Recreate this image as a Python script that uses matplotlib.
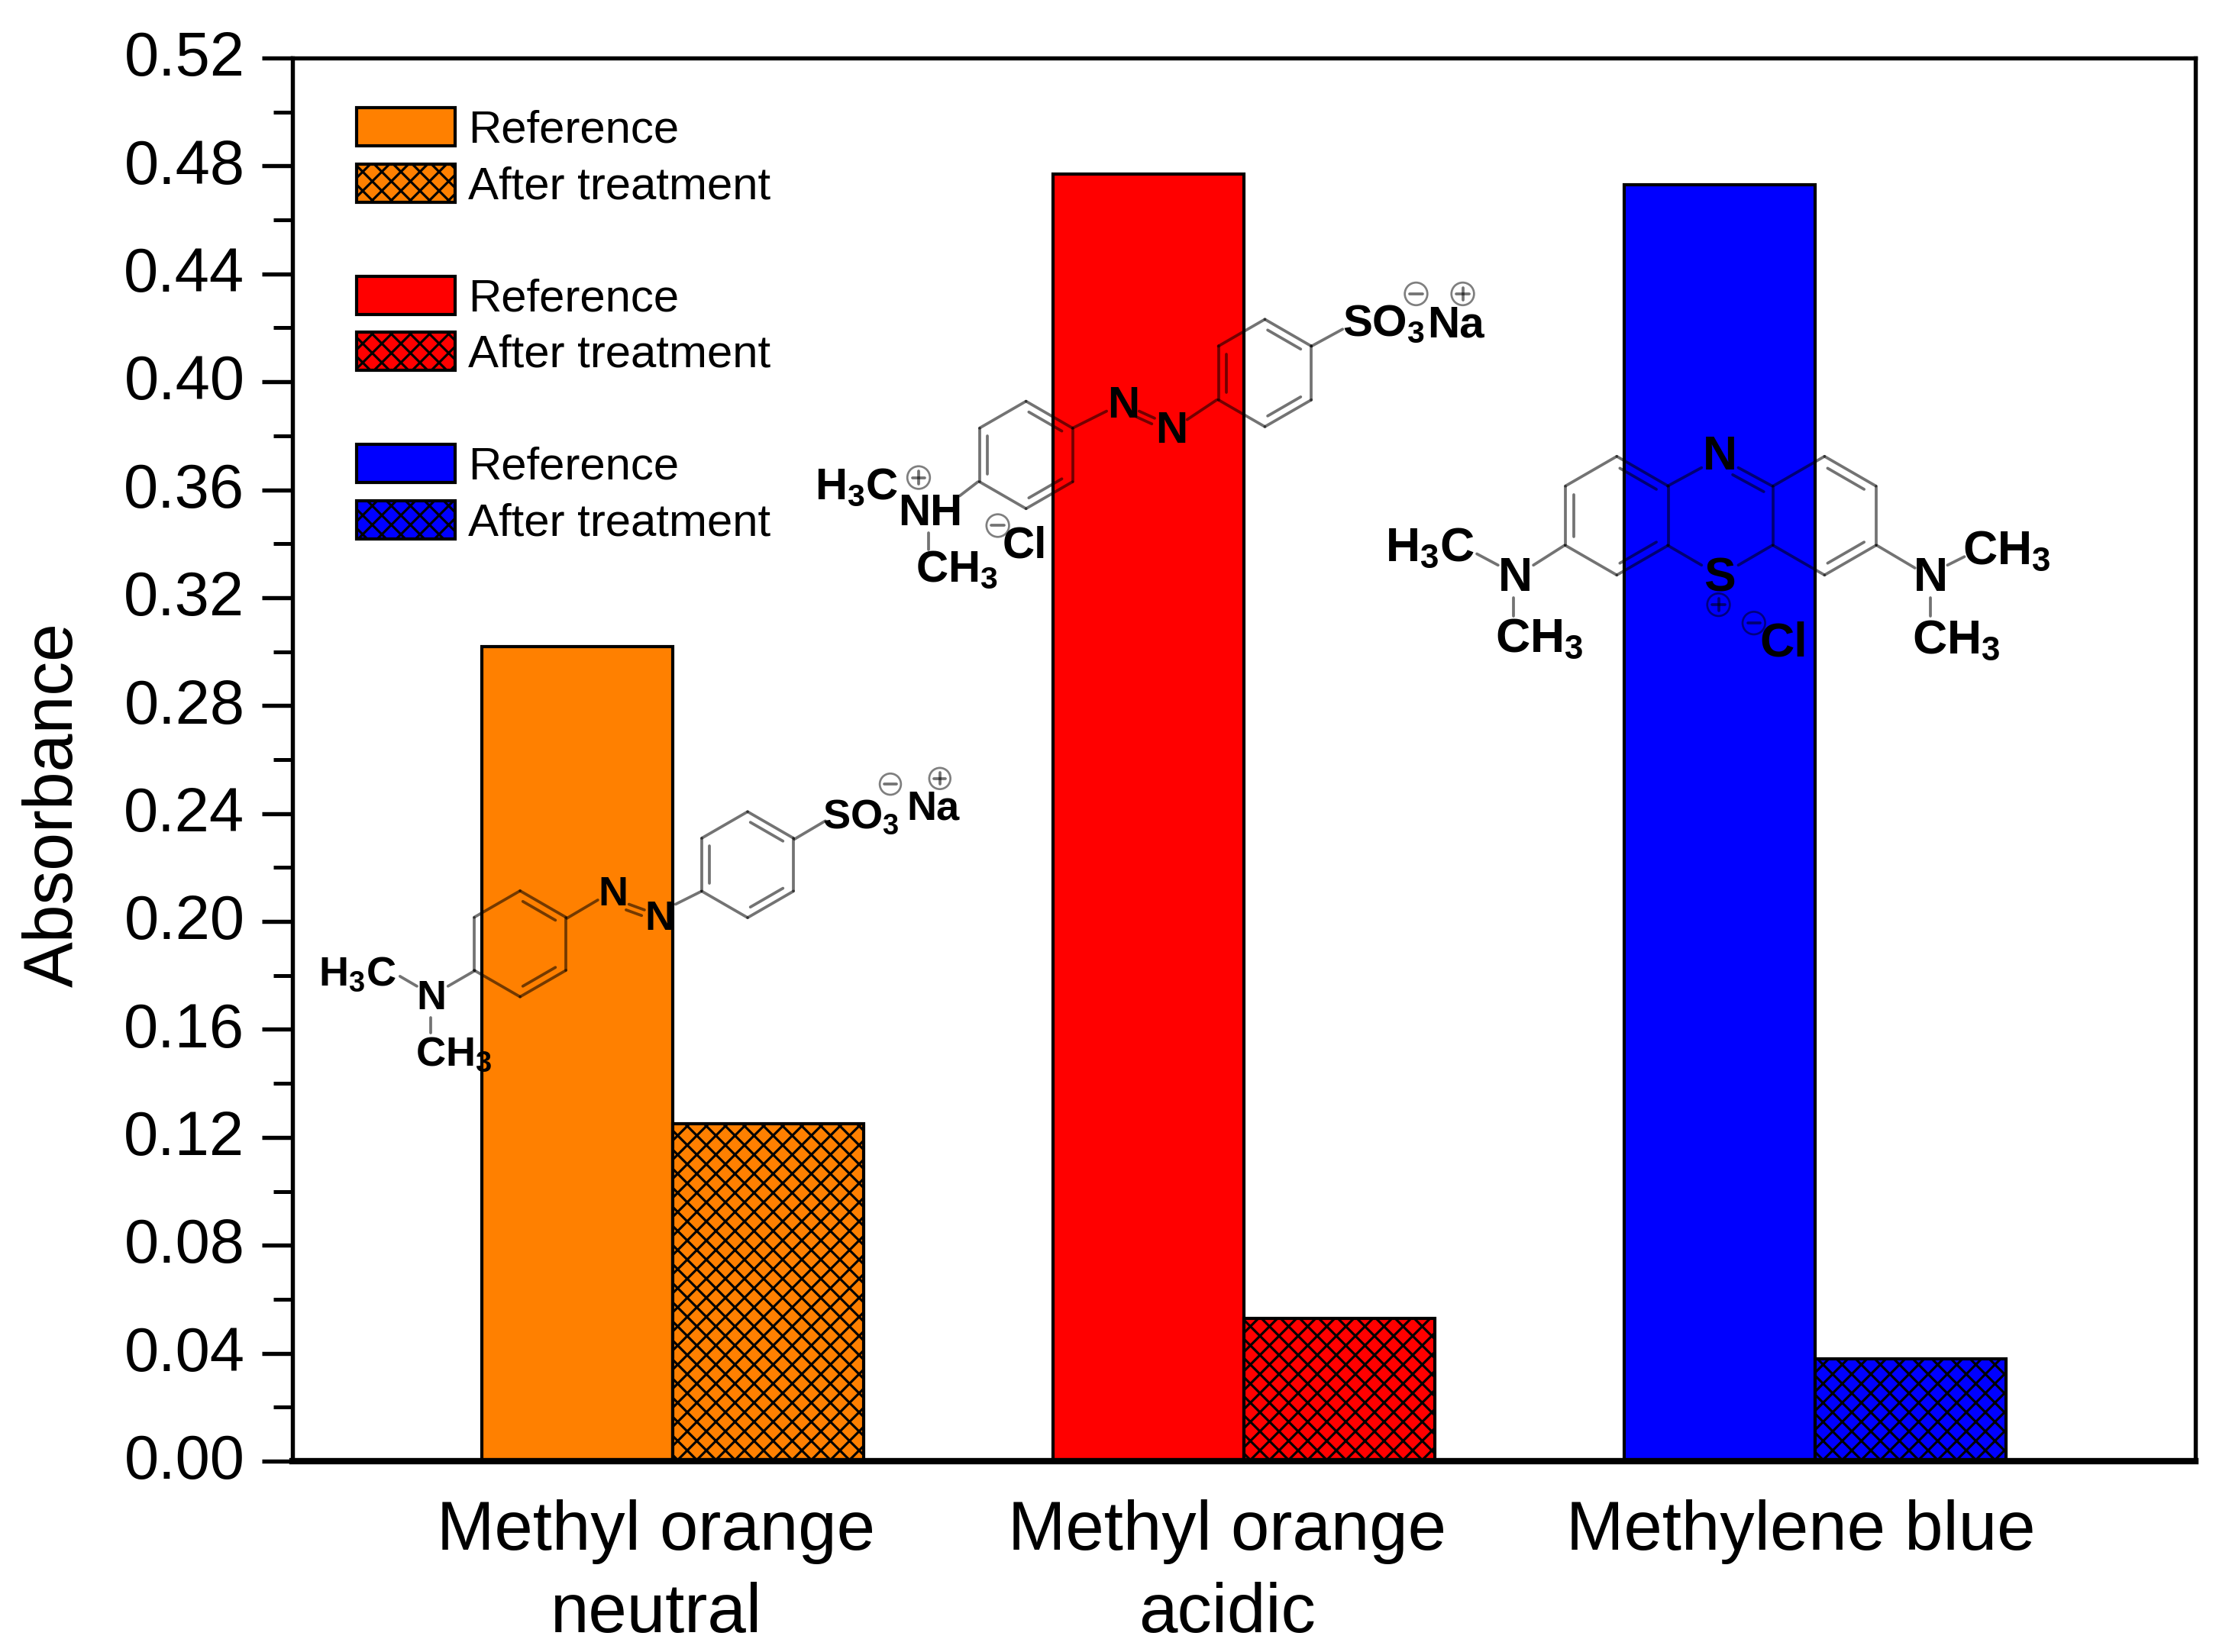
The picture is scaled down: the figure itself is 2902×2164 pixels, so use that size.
import numpy as np
import matplotlib
matplotlib.use("Agg")
from matplotlib import pyplot as plt
from matplotlib.patches import Circle
from matplotlib.transforms import ScaledTranslation

dyes = ["Methyl orange\nneutral", "Methyl orange\nacidic", "Methylene blue"]
reference = [0.302, 0.477, 0.473]
after_treatment = [0.125, 0.053, 0.038]
colors = ["#ff8000", "#ff0000", "#0000ff"]
yticks = [0.00, 0.04, 0.08, 0.12, 0.16, 0.20, 0.24, 0.28, 0.32, 0.36, 0.40, 0.44, 0.48, 0.52]

plt.rcParams['font.family'] = ['Liberation Sans', 'DejaVu Sans']
plt.rcParams['mathtext.fontset'] = 'custom'
plt.rcParams['mathtext.rm'] = 'Liberation Sans'
plt.rcParams['mathtext.bf'] = 'Liberation Sans:bold'
plt.rcParams['mathtext.default'] = 'regular'
plt.rcParams['hatch.linewidth'] = 1.5

dpi = 150
fig = plt.figure(figsize=(2902 / dpi, 2164 / dpi), dpi=dpi)
ax = fig.add_axes([383 / 2902, 1 - 1914 / 2164, (2875 - 383) / 2902, (1914 - 76) / 2164])

width = 0.334
handles = []
labels = []
for i in range(3):
    pos = i + 1
    b1 = ax.bar(pos - width / 2, reference[i], width, color=colors[i], edgecolor='k', linewidth=2)
    b2 = ax.bar(pos + width / 2, after_treatment[i], width, color=colors[i], edgecolor='k',
                linewidth=2, hatch='xx')
    handles += [b1, b2]
    labels += ["Reference", "After treatment"]
    if i < 2:
        # empty row between the groups of the legend
        handles.append(plt.Rectangle((0, 0), 0, 0, visible=False))
        labels.append(" ")

ax.set_xlim(0.334, 3.666)
ax.set_ylim(0, 0.52)
ax.set_yticks(yticks)
ax.set_yticklabels(["%.2f" % t for t in yticks])
ax.set_yticks(np.array(yticks[:-1]) + 0.02, minor=True)
ax.tick_params(axis='y', which='major', length=19, width=2.6, labelsize=39, pad=11)
ax.tick_params(axis='y', which='minor', length=12, width=2.4)
# the numbers sit a little above their ticks in the original
shift = ScaledTranslation(0, 3 / 72, fig.dpi_scale_trans)
for lab in ax.get_yticklabels():
    lab.set_transform(lab.get_transform() + shift)
ax.set_xticks([0.97, 1.97, 2.975])
ax.set_xticklabels(dyes, fontsize=43.5, linespacing=1.35)
ax.tick_params(axis='x', length=0, pad=24)
ax.set_ylabel("Absorbance", fontsize=43)
ax.yaxis.set_label_coords(-0.108, 0.468)
for side in ['top', 'left', 'right']:
    ax.spines[side].set_linewidth(2.6)
ax.spines['bottom'].set_linewidth(4)

leg = ax.legend(handles, labels, loc='upper left', bbox_to_anchor=(0.0337, 0.9645), borderaxespad=0,
                borderpad=0, frameon=False, fontsize=28.8, handlelength=2.15, handleheight=0.9,
                handletextpad=0.28, labelspacing=0.265)

# molecule drawings go on a transparent layer in picture coordinates
s = 2902 / 1568
mol = fig.add_axes([0, 0, 1, 1], facecolor='none')
mol.set_xlim(0, 1568)
mol.set_ylim(2164 / s, 0)
mol.axis('off')

bond = dict(color='k', alpha=0.55, linewidth=1.8, solid_capstyle='round', zorder=3)


def drawBond(p, q):
    mol.plot([p[0], q[0]], [p[1], q[1]], **bond)


def drawRing(cx, cy, r, doubleEdges):
    """hexagon with a point on top, edge 0 goes from the top vertex clockwise"""
    angles = np.radians([90, 30, -30, -90, -150, 150])
    xs = cx + r * np.cos(angles)
    ys = cy - r * np.sin(angles)
    for k in range(6):
        n = (k + 1) % 6
        drawBond((xs[k], ys[k]), (xs[n], ys[n]))
        if k in doubleEdges:
            # second line pulled towards the middle of the ring
            a = np.array([xs[k], ys[k]])
            b = np.array([xs[n], ys[n]])
            c = np.array([cx, cy])
            a2 = a + (c - a) * 0.17 + (b - a) * 0.06
            b2 = b + (c - b) * 0.17 + (a - b) * 0.06
            drawBond(a2, b2)


def atom(x, y, label, size=28):
    mol.text(x, y + 1.5, label, fontsize=size, ha='center', va='center', color='k', weight='bold', zorder=4)


def charge(x, y, sign, r=7.5):
    mol.add_patch(Circle((x, y), r, fill=False, edgecolor='k', alpha=0.5, linewidth=1.3, zorder=3))
    mol.plot([x - r * 0.55, x + r * 0.55], [y, y], **bond)
    if sign == '+':
        mol.plot([x, x], [y - r * 0.55, y + r * 0.55], **bond)


# methyl orange, neutral
drawRing(368, 668, 37.5, [0, 2, 4])
drawRing(529, 612, 37.5, [0, 2, 4])
drawBond((317, 698), (336, 687))
drawBond((283, 691), (295, 698))
drawBond((305, 720), (305, 731))
drawBond((401, 650), (423, 637))
drawBond((445, 640), (456, 644))
drawBond((443, 644), (454, 648))
drawBond((478, 640), (496, 631))
drawBond((562, 594), (584, 581))
atom(253, 688, "H$_3$C", 26)
atom(305, 705, "N", 26)
atom(321, 745, "CH$_3$", 26)
atom(434, 632, "N", 26)
atom(467, 649, "N", 26)
atom(609, 577, "SO$_3$", 26)
atom(660, 571, "Na", 26)
charge(630, 555, '-')
charge(665, 551, '+')

# methyl orange, acidic
drawRing(726, 322, 38, [0, 2, 4])
drawRing(895, 264, 38, [0, 2, 4])
drawBond((692, 341), (679, 351))
drawBond((657, 377), (657, 389))
drawBond((759, 303), (783, 291))
drawBond((806, 291), (817, 296))
drawBond((804, 295), (815, 300))
drawBond((840, 297), (861, 283))
drawBond((928, 245), (950, 233))
atom(606, 344, "H$_3$C")
atom(658, 362, "NH")
atom(677, 402, "CH$_3$")
atom(725, 385, "Cl")
atom(795, 286, "N")
atom(829, 304, "N")
atom(979, 228, "SO$_3$")
atom(1030, 229, "Na")
charge(650, 338, '+', 8)
charge(706, 372, '-', 8)
charge(1002, 208, '-', 8)
charge(1035, 208, '+', 8)

# methylene blue
drawRing(1144, 365, 42, [0, 2, 4])
drawRing(1291, 365, 42, [0, 2])
drawBond((1180, 344), (1204, 331))
drawBond((1254, 344), (1230, 331))
drawBond((1248, 348), (1226, 336))
drawBond((1180, 386), (1204, 400))
drawBond((1254, 386), (1230, 400))
drawBond((1085, 400), (1107, 386))
drawBond((1045, 392), (1060, 400))
drawBond((1071, 423), (1071, 436))
drawBond((1328, 386), (1355, 402))
drawBond((1378, 400), (1390, 394))
drawBond((1366, 423), (1366, 436))
atom(1012, 387, "H$_3$C", 30)
atom(1072, 408, "N", 30)
atom(1089, 451, "CH$_3$", 30)
atom(1420, 389, "CH$_3$", 30)
atom(1366, 408, "N", 30)
atom(1384, 452, "CH$_3$", 30)
atom(1217, 322, "N", 30)
atom(1217, 408, "S", 30)
atom(1262, 454, "Cl", 30)
charge(1216, 428, '+', 8)
charge(1241, 441, '-', 8)

fig.savefig("out.png", dpi=dpi)
